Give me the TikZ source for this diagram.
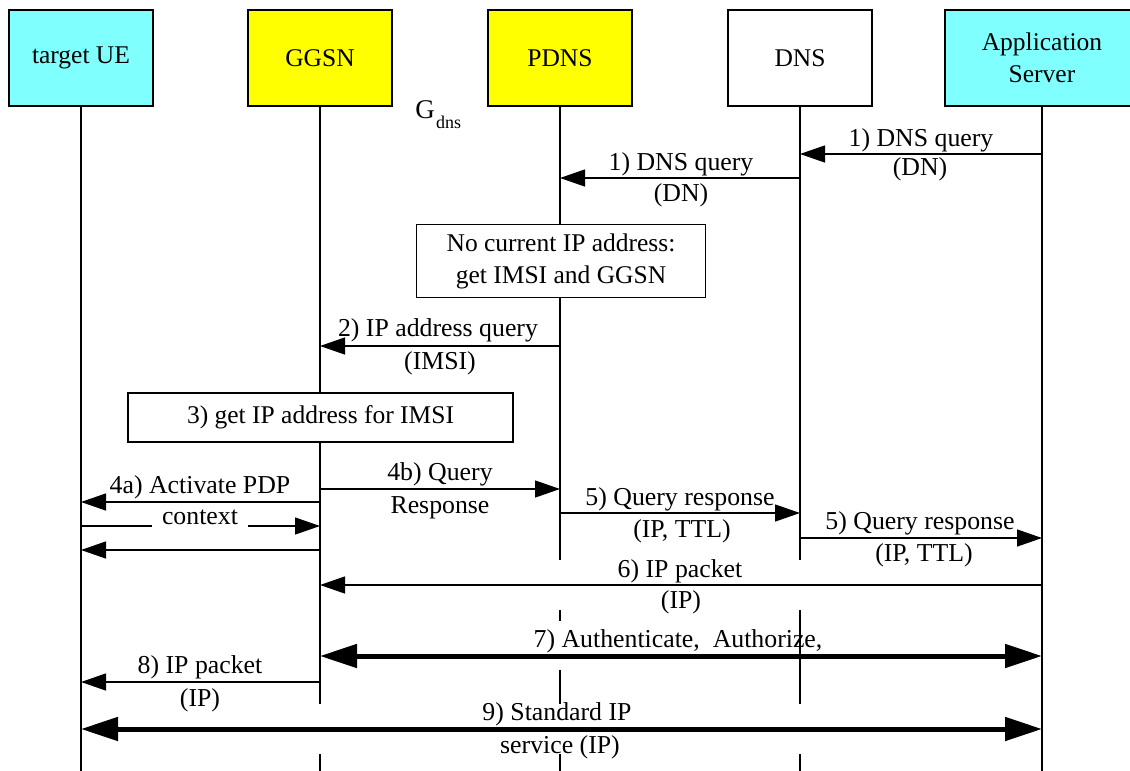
\documentclass[tikz,border=0pt]{standalone}
\usepackage{fontspec}
\setmainfont{Liberation Serif}
\usetikzlibrary{arrows.meta}
\definecolor{cyanbox}{HTML}{80FFFF}
\definecolor{yellowbox}{HTML}{FFFF00}
\begin{document}
\begin{tikzpicture}[x=1pt,y=-1pt,
  ent/.style={draw, line width=1.5pt, minimum width=144pt, minimum height=96pt, anchor=north, align=center, inner sep=0pt, font=\fontsize{25.5}{32}\selectfont},
  life/.style={line width=1.3pt},
  note/.style={draw, fill=white, line width=1.3pt, align=center, inner sep=0pt, font=\fontsize{25.5}{32}\selectfont},
  msg/.style={line width=1.3pt, -{Triangle[length=25pt,width=17pt]}},
  big/.style={line width=5pt, {Triangle[length=37pt,width=23pt]}-{Triangle[length=37pt,width=23pt]}},
  lbl/.style={font=\fontsize{25.8}{30}\selectfont, anchor=base, inner sep=0pt}
]
\useasboundingbox (0,0) rectangle (1130,771);
\clip (0,0) rectangle (1130,771);

% entities
\node[ent, fill=cyanbox] (ue) at (81,9) {target UE};
\node[ent, fill=yellowbox] (gg) at (320,9) {GGSN};
\node[ent, fill=yellowbox] (pd) at (560,9) {PDNS};
\node[ent, fill=white] (dn) at (800,9) {DNS};
\node[ent, fill=cyanbox, minimum width=194pt] (as) at (1042,9) {Application\\Server};

% lifelines
\draw[life] (ue.south) -- (ue |- 0,771);
\draw[life] (gg.south) -- (gg |- 0,704);
\draw[life] (gg |- 0,754) -- (gg |- 0,771);
\draw[life] (pd.south) -- (pd |- 0,560);
\draw[life] (pd |- 0,610) -- (pd |- 0,621);
\draw[life] (pd |- 0,670) -- (pd |- 0,704);
\draw[life] (pd |- 0,754) -- (pd |- 0,771);
\draw[life] (dn.south) -- (dn |- 0,560);
\draw[life] (dn |- 0,610) -- (dn |- 0,704);
\draw[life] (dn |- 0,754) -- (dn |- 0,771);
\draw[life] (as.south) -- (as |- 0,771);

% G_dns
\node[lbl, font=\fontsize{27}{30}\selectfont] (g) at (425,118) {G};
\node[lbl, font=\fontsize{18}{20}\selectfont, anchor=base west] (gs) at (436,128) {dns};

% 1) AS -> DNS
\draw[msg] (as |- 0,154) -- (dn |- 0,154);
\node[lbl] (l1a) at (921,146) {1) DNS query};
\node[lbl] (l1b) at (920,175) {(DN)};
% 1) DNS -> PDNS
\draw[msg] (dn |- 0,178) -- (pd |- 0,178);
\node[lbl] (l1c) at (681,170) {1) DNS query};
\node[lbl] (l1d) at (681,201) {(DN)};

% note
\node[note, minimum width=289pt, minimum height=73pt] (n1) at (561,261) {No current IP address:\\get IMSI and GGSN};

% 2)
\draw[msg] (pd |- 0,346) -- (gg |- 0,346);
\node[lbl] (l2a) at (438,336) {2) IP address query};
\node[lbl] (l2b) at (440,369) {(IMSI)};

% 3)
\node[note, minimum width=385pt, minimum height=49pt] (n3) at (320.5,417.5) {3) get IP address for IMSI};

% 4a)
\draw[msg] (gg |- 0,502) -- (ue |- 0,502);
\node[lbl] (l4a) at (200,493) {4a) Activate PDP};
\draw[msg] (ue |- 0,526) -- (gg |- 0,526);
\node[lbl, fill=white, inner xsep=10pt, inner ysep=3pt] (l4c) at (200,524) {context};
\draw[msg] (gg |- 0,550) -- (ue |- 0,550);

% 4b)
\draw[msg] (gg |- 0,489) -- (pd |- 0,489);
\node[lbl] (l4b) at (440,480) {4b) Query};
\node[lbl] (l4d) at (440,513) {Response};

% 5) PDNS -> DNS
\draw[msg] (pd |- 0,513) -- (dn |- 0,513);
\node[lbl] (l5a) at (680,505) {5) Query response};
\node[lbl] (l5b) at (682,537) {(IP, TTL)};
% 5) DNS -> AS
\draw[msg] (dn |- 0,538) -- (as |- 0,538);
\node[lbl] (l5c) at (920,529) {5) Query response};
\node[lbl] (l5d) at (924,561) {(IP, TTL)};

% 6)
\draw[msg] (as |- 0,585) -- (gg |- 0,585);
\node[lbl] (l6a) at (680,577) {6) IP packet};
\node[lbl] (l6b) at (681,608) {(IP)};

% 7)
\draw[big] (gg |- 0,656) -- (as |- 0,656);
\node[lbl] (l7) at (678,647) {7) Authenticate,\ \ Authorize,};

% 8)
\draw[msg] (gg |- 0,682) -- (ue |- 0,682);
\node[lbl] (l8a) at (200,673) {8) IP packet};
\node[lbl] (l8b) at (200,706) {(IP)};

% 9)
\draw[big] (ue |- 0,729) -- (as |- 0,729);
\node[lbl] (l9a) at (557,720) {9) Standard IP};
\node[lbl] (l9b) at (560,753) {service (IP)};
\end{tikzpicture}
\end{document}
